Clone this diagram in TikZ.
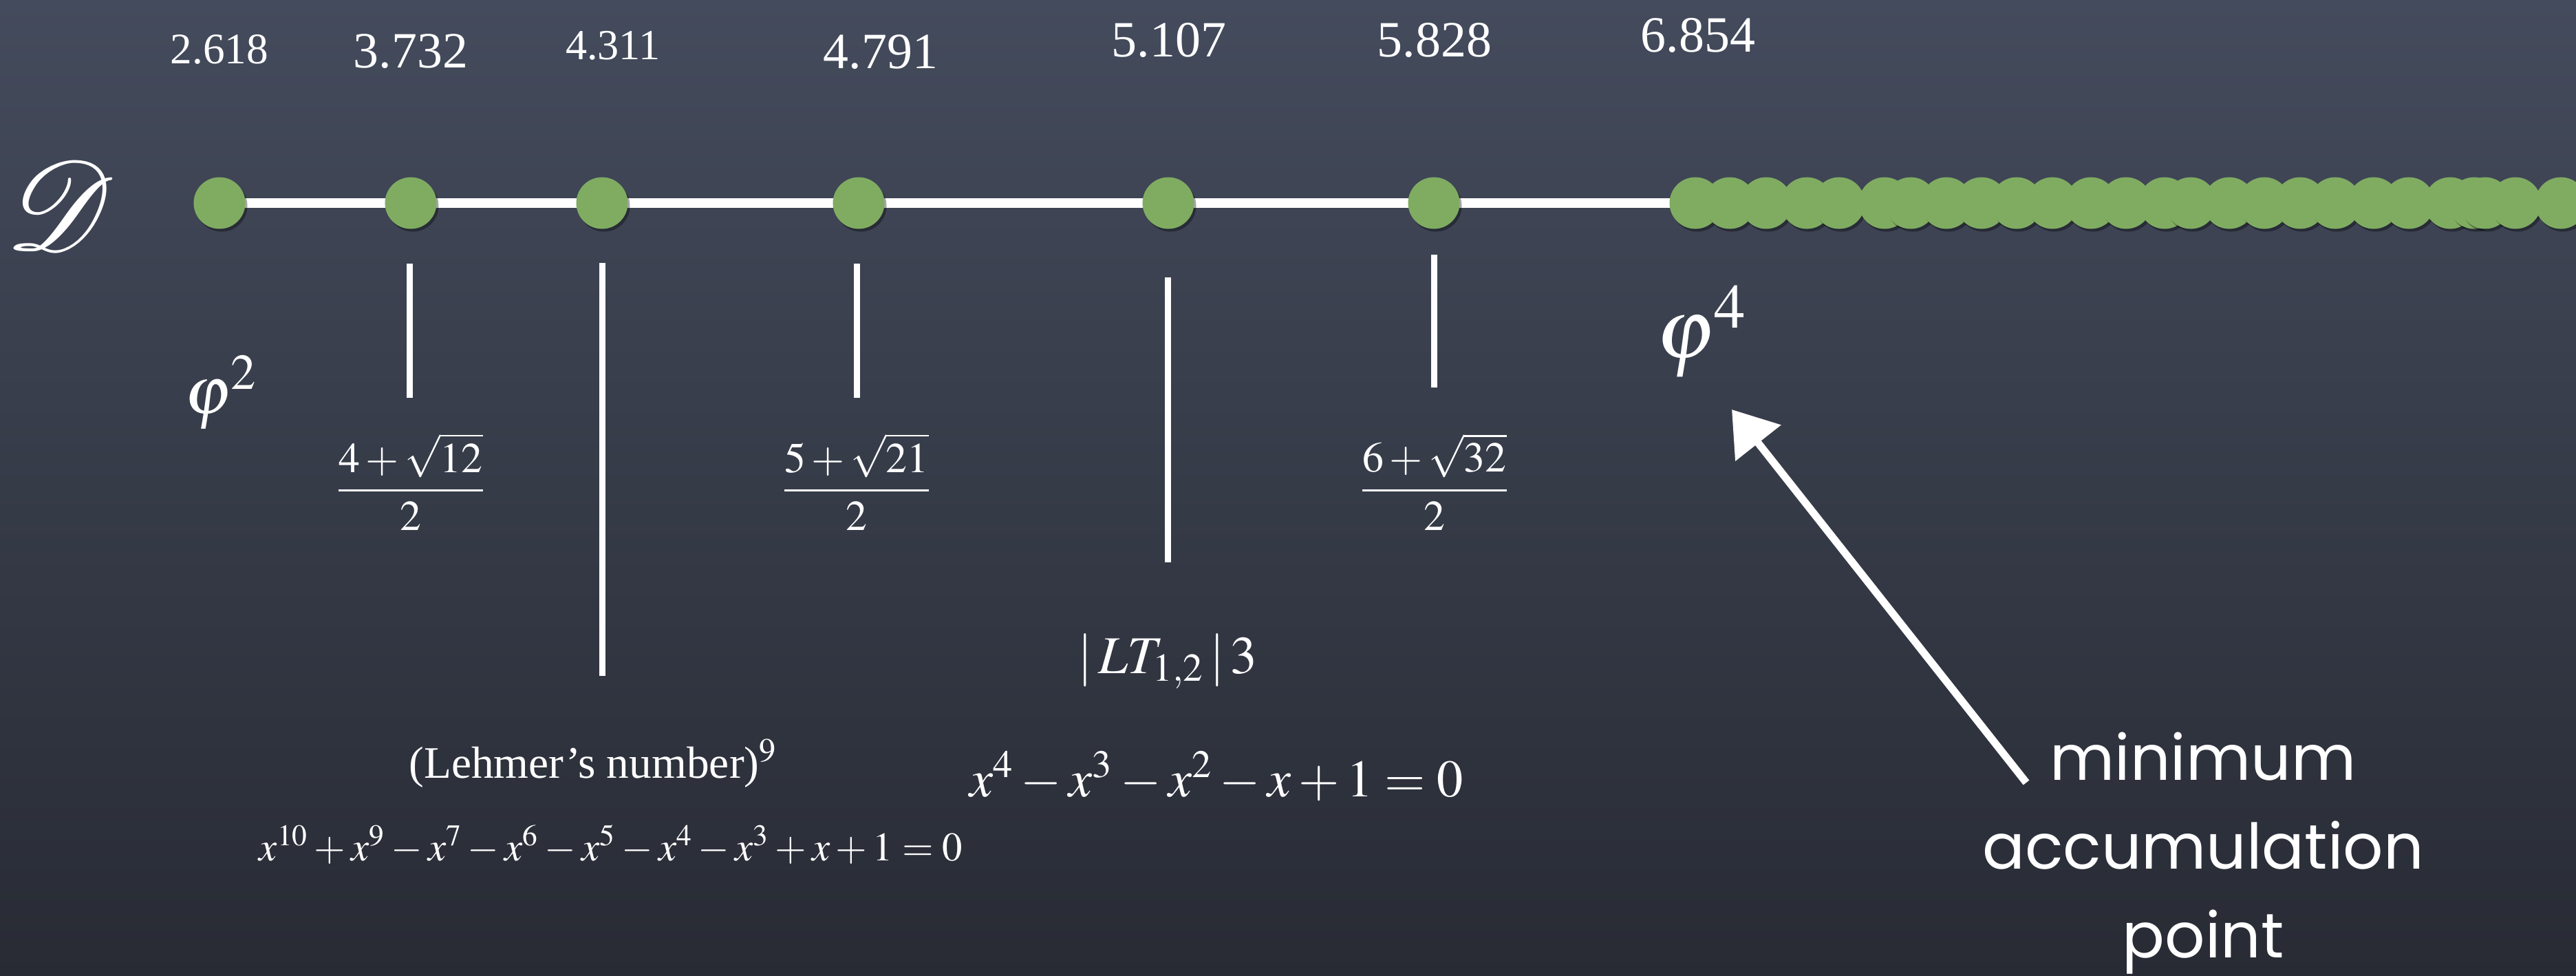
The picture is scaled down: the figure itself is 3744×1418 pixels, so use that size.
\documentclass[tikz,border=0pt]{standalone}
\usepackage{mathptmx}
\DeclareFontFamily{U}{rsfs}{\skewchar\font127 }
\DeclareFontShape{U}{rsfs}{m}{n}{<-6> rsfs5 <6-8> rsfs7 <8-> rsfs10}{}
\usepackage{mathrsfs}
\usepackage{amsmath}
\usepackage{fontspec}
\setmainfont{Liberation Serif}
\newfontfamily\handfont{Poppins}
\usetikzlibrary{arrows.meta,shadows}
\definecolor{boardtop}{RGB}{68,75,92}
\definecolor{boardbot}{RGB}{40,43,52}
\definecolor{dotgreen}{RGB}{128,172,98}
\pgfdeclarelayer{back}
\pgfdeclarelayer{mid}
\pgfsetlayers{back,mid,main}
\begin{document}
\begin{tikzpicture}[x=0.01cm,y=-0.01cm,
  dotnode/.style={circle,fill=dotgreen,minimum size=0.75cm,inner sep=0pt,draw=none,
    drop shadow={shadow xshift=0.03cm,shadow yshift=-0.04cm,opacity=0.35,fill=black}},
  chalkline/.style={draw=white,line width=0.14cm},
  ticklink/.style={draw=white,line width=0.09cm},
  chalkarrow/.style={draw=white,line width=0.11cm,-{Triangle[length=0.62cm,width=0.82cm]}},
  lbl/.style={text=white,inner sep=0pt},
  numlbl/.style={lbl,anchor=base},
  hand/.style={lbl,align=center,font=\handfont\fontsize{26}{36.7}\selectfont}
]
\useasboundingbox (0,0) rectangle (3744,1418);
\begin{pgfonlayer}{back}
\begin{scope}[x=1cm,y=1cm]
\shade[top color=boardtop,bottom color=boardbot] (0,0) rectangle (37.44,-14.18);
\end{scope}
\end{pgfonlayer}

% title symbol
\node[lbl,font=\fontsize{52}{52}\selectfont] (D) at (88,298) {$\mathscr{D}$};

% isolated points
\node[dotnode] (d1) at (319,295) {};
\node[dotnode] (d2) at (597,295) {};
\node[dotnode] (d3) at (875,295) {};
\node[dotnode] (d4) at (1248,295) {};
\node[dotnode] (d5) at (1698,295) {};
\node[dotnode] (d6) at (2084,295) {};
% accumulating cluster
\foreach \xx [count=\i] in {2464,2514,2567,2626,2673,2739,2777,2829,2880,2931,2983,3039,3090,3146,3184,3240,3291,3343,3394,3450,3501,3561,3596,3612,3656,3722}
  \node[dotnode] (c\i) at (\xx,295) {};

\begin{pgfonlayer}{mid}
\draw[chalkline] (d1.center) -- (c1.center);
\end{pgfonlayer}

% values above
\node[numlbl,font=\fontsize{18}{20}\selectfont] (v1) at (319,93) {2.618};
\node[numlbl,font=\fontsize{21}{24}\selectfont] (v2) at (597,98) {3.732};
\node[numlbl,font=\fontsize{17.7}{20}\selectfont] (v3) at (891,87) {4.311};
\node[numlbl,font=\fontsize{21}{24}\selectfont] (v4) at (1280,100) {4.791};
\node[numlbl,font=\fontsize{21}{24}\selectfont] (v5) at (1699,83) {5.107};
\node[numlbl,font=\fontsize{21}{24}\selectfont] (v6) at (2085,83) {5.828};
\node[numlbl,font=\fontsize{21}{24}\selectfont] (v7) at (2468,75) {6.854};

% ticks
\coordinate (t1a) at (595,383);  \coordinate (t1b) at (595,578);
\coordinate (t2a) at (875,382);  \coordinate (t2b) at (875,982);
\coordinate (t3a) at (1245,383); \coordinate (t3b) at (1245,578);
\coordinate (t4a) at (1697,403); \coordinate (t4b) at (1697,817);
\coordinate (t5a) at (2084,370); \coordinate (t5b) at (2084,563);
\draw[ticklink] (t1a) -- (t1b);
\draw[ticklink] (t2a) -- (t2b);
\draw[ticklink] (t3a) -- (t3b);
\draw[ticklink] (t4a) -- (t4b);
\draw[ticklink] (t5a) -- (t5b);

% labels below
\node[lbl,font=\fontsize{28}{28}\selectfont] (phi2) at (321,570) {$\varphi^{2}$};
\node[lbl,font=\fontsize{17.6}{20}\selectfont] (f1) at (597,700) {$\dfrac{4+\sqrt{12}}{2}$};
\node[lbl,font=\fontsize{17.6}{20}\selectfont] (f2) at (1245,700) {$\dfrac{5+\sqrt{21}}{2}$};
\node[lbl,font=\fontsize{17.6}{20}\selectfont] (f3) at (2085,700) {$\dfrac{6+\sqrt{32}}{2}$};
\node[numlbl,font=\fontsize{18.6}{21}\selectfont] (leh) at (862,1130) {(Lehmer's number)$^{9}$};
\node[numlbl,font=\fontsize{16.7}{20}\selectfont] (leheq) at (888,1250) {$x^{10}+x^{9}-x^{7}-x^{6}-x^{5}-x^{4}-x^{3}+x+1=0$};
\node[numlbl,font=\fontsize{22}{25}\selectfont] (lt) at (1697,978) {$|\,LT_{1,2}\,|\,3$};
\node[numlbl,font=\fontsize{21.7}{25}\selectfont] (lteq) at (1768,1157) {$x^{4}-x^{3}-x^{2}-x+1=0$};
\node[lbl,font=\fontsize{35}{35}\selectfont] (phi4) at (2473,482) {$\varphi^{4}$};

% minimum accumulation point
\node[hand] (acc) at (3202,1240) {minimum\\accumulation\\point};
\coordinate (arrS) at (2945,1137);
\coordinate (arrT) at (2517,595);
\draw[chalkarrow] (arrS) -- (arrT);
\end{tikzpicture}
\end{document}
